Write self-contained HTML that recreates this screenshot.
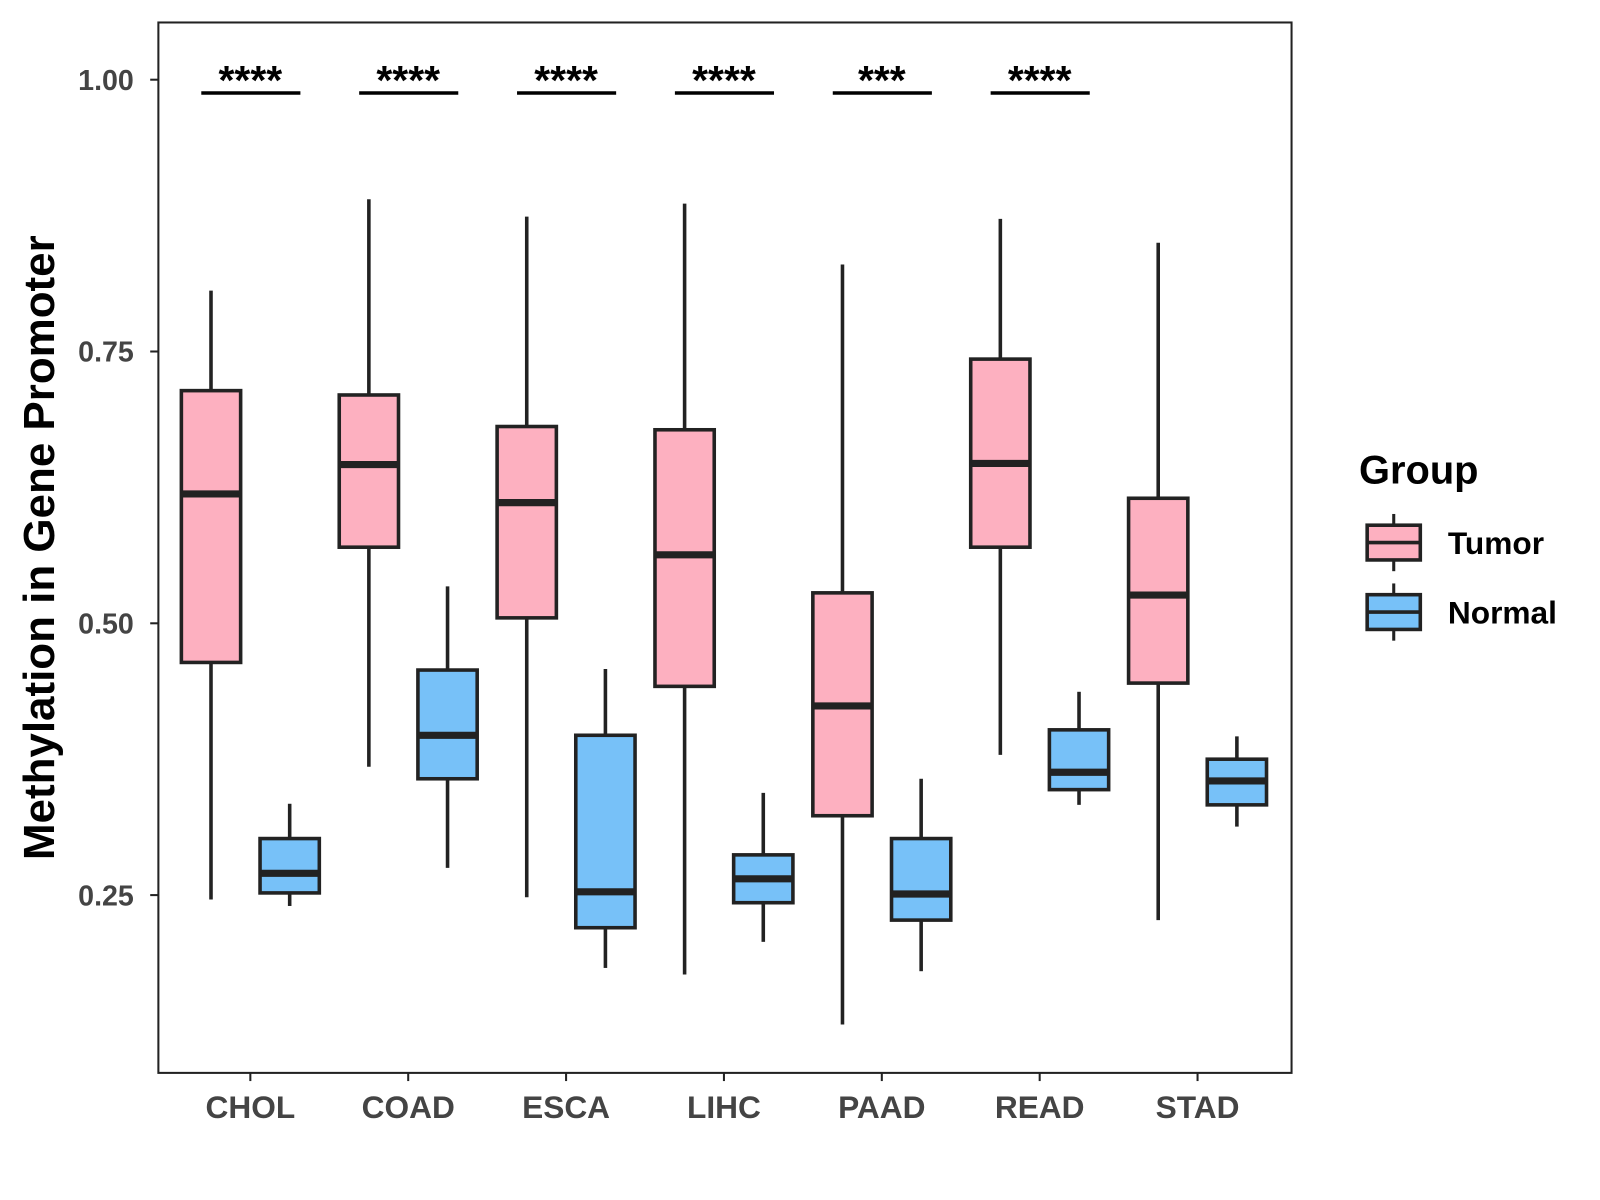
<!DOCTYPE html>
<html><head><meta charset="utf-8"><style>
html,body{margin:0;padding:0;background:#fff;}
svg{display:block;font-family:"Liberation Sans",Arial,sans-serif;}
</style></head><body>
<svg id="chart" width="1600" height="1200" viewBox="0 0 1600 1200" xmlns="http://www.w3.org/2000/svg">
<rect x="0" y="0" width="1600" height="1200" fill="#fff"/>
<g id="plot" transform="scale(1.0218)"></g>
</svg>
<script>
const categories = ["CHOL","COAD","ESCA","LIHC","PAAD","READ","STAD"];
// [whiskerLow, q1, median, q3, whiskerHigh]
const tumorStats = [
 [0.246,0.464,0.619,0.714,0.806],
 [0.368,0.570,0.646,0.710,0.890],
 [0.248,0.505,0.611,0.681,0.874],
 [0.177,0.442,0.563,0.678,0.886],
 [0.131,0.323,0.424,0.528,0.830],
 [0.379,0.570,0.647,0.743,0.872],
 [0.227,0.445,0.526,0.615,0.850]
];
const normalStats = [
 [0.240,0.252,0.270,0.302,0.334],
 [0.275,0.357,0.397,0.457,0.534],
 [0.183,0.220,0.253,0.397,0.458],
 [0.207,0.243,0.265,0.287,0.344],
 [0.180,0.227,0.251,0.302,0.357],
 [0.333,0.347,0.363,0.402,0.437],
 [0.313,0.333,0.355,0.375,0.396]
];
const sigLabels = ["****","****","****","****","***","****",""];
const yTicks = [0.25,0.50,0.75,1.00];
const yTickLabels = ["0.25","0.50","0.75","1.00"];

const NS="http://www.w3.org/2000/svg";
const g=document.getElementById('plot');
const px0=155, px1=1264, py0=22, py1=1050;
const y = v => 876 - (v-0.25)*1064;
const x = i => 245 + i*154.5;
function mk(tag,attrs,parent){const e=document.createElementNS(NS,tag);for(const k in attrs)e.setAttribute(k,attrs[k]);(parent||g).appendChild(e);return e;}

const frame=mk('rect',{x:px0,y:py0,width:px1-px0,height:py1-py0,fill:'none',stroke:'#222','stroke-width':2});



yTicks.forEach((t,i)=>{
 const tk=mk('line',{x1:px0-8,x2:px0,y1:y(t),y2:y(t),stroke:'#222','stroke-width':2});
 
 
 const tl=mk('text',{x:px0-24,y:y(t)+10,'text-anchor':'end','font-size':28,'font-weight':'bold',fill:'#444'});
 tl.textContent=yTickLabels[i];
 
 
});

const bw=58, off=38.5;
function drawBox(s,cx,fill,name){
 const grp=mk('g',{});
 
 
 mk('line',{x1:cx,x2:cx,y1:y(s[0]),y2:y(s[1]),stroke:'#222','stroke-width':3.5},grp);
 mk('line',{x1:cx,x2:cx,y1:y(s[3]),y2:y(s[4]),stroke:'#222','stroke-width':3.5},grp);
 mk('rect',{x:cx-bw/2,y:y(s[3]),width:bw,height:y(s[1])-y(s[3]),fill:fill,stroke:'#222','stroke-width':3.5},grp);
 mk('line',{x1:cx-bw/2,x2:cx+bw/2,y1:y(s[2]),y2:y(s[2]),stroke:'#222','stroke-width':7},grp);
}
categories.forEach((c,i)=>{
 const cx=x(i);
 drawBox(tumorStats[i],cx-off,'#FDB0C0','box-tumor-'+c.toLowerCase());
 drawBox(normalStats[i],cx+off,'#77C1F8','box-normal-'+c.toLowerCase());
 const tk=mk('line',{x1:cx,x2:cx,y1:py1,y2:py1+8,stroke:'#222','stroke-width':2});
 
 
 const tl=mk('text',{x:cx,y:1094,'text-anchor':'middle','font-size':31,'font-weight':'bold',fill:'#444'});
 tl.textContent=c;
 
 
 if(sigLabels[i]){
  const bl=mk('line',{x1:cx-48,x2:cx+49,y1:91,y2:91,stroke:'#000','stroke-width':3.5});
  
  
  const st=mk('text',{x:cx,y:92,'text-anchor':'middle','font-size':40,'font-weight':'bold',fill:'#000'});
  st.textContent=sigLabels[i];
  
  
 }
});

const yt=mk('text',{x:0,y:0,transform:'translate(53,536) rotate(-90)','text-anchor':'middle','font-size':43,'font-weight':'bold',fill:'#000'});
yt.textContent='Methylation in Gene Promoter';



const lt=mk('text',{x:1330,y:473,'font-size':39,'font-weight':'bold',fill:'#000'});
lt.textContent='Group';


[['Tumor','#FDB0C0',531],['Normal','#77C1F8',599]].forEach(([lab,col,cy])=>{
 const e=mk('g',{});
 
 
 mk('line',{x1:1364,x2:1364,y1:cy-28,y2:cy+28,stroke:'#222','stroke-width':3},e);
 mk('rect',{x:1338,y:cy-17,width:52,height:34,fill:col,stroke:'#222','stroke-width':3.5},e);
 mk('line',{x1:1338,x2:1390,y1:cy,y2:cy,stroke:'#222','stroke-width':3.5},e);
 const t=mk('text',{x:1417,y:cy+11,'font-size':31,'font-weight':'bold',fill:'#000'},e);
 t.textContent=lab;
});
</script>
</body></html>
